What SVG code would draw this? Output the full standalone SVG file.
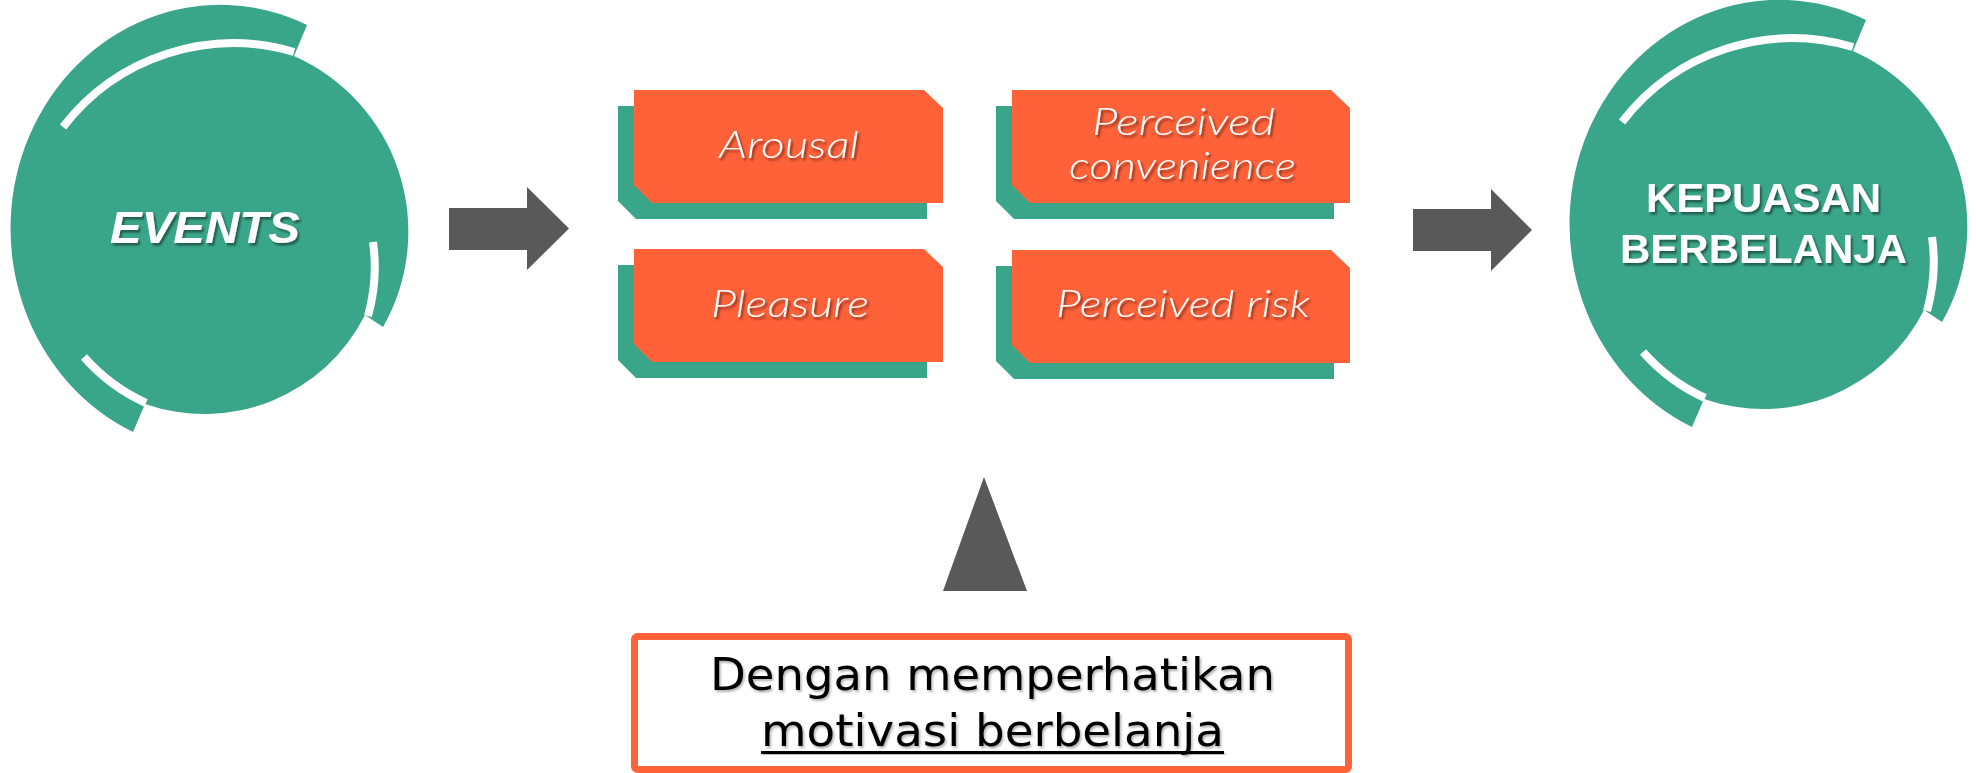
<svg xmlns="http://www.w3.org/2000/svg" xmlns:xlink="http://www.w3.org/1999/xlink" width="1976" height="773" viewBox="0 0 1976 773">
  <style>
    .teal { fill: #3AA689; }
    .orange { fill: #FF6139; }
    .gap { fill: none; stroke: #FFFFFF; stroke-width: 8; stroke-linecap: butt; }
    .arrow { fill: #595959; }
    .circle-label { font-family: "Liberation Sans", Arial, sans-serif; font-weight: bold; fill: #FFFFFF; filter: url(#shadow); }
    .box-label { font-family: Lato, "Liberation Sans", sans-serif; font-weight: 300; font-style: italic; font-size: 38px; fill: #FFFFFF; text-anchor: middle; filter: url(#shadow); }
    .note { font-family: "DejaVu Sans", "Liberation Sans", sans-serif; font-size: 45px; fill: #000000; text-anchor: middle; filter: url(#softshadow); }
  </style>
  <defs>
    <filter id="shadow" x="-10%" y="-20%" width="120%" height="150%">
      <feDropShadow dx="2" dy="2.5" stdDeviation="1.2" flood-color="#000000" flood-opacity="0.45"/>
    </filter>
    <filter id="softshadow" x="-10%" y="-20%" width="120%" height="150%">
      <feDropShadow dx="1.5" dy="2" stdDeviation="1.2" flood-color="#000000" flood-opacity="0.3"/>
    </filter>
    <!-- disc with a broken outer ring -->
    <g id="ring-disc">
      <path class="teal" d="M 307,25 A 206 220 0 1 0 133,432 L 145,404 A 180 180 0 0 0 365,315 L 383,327 A 192 192 0 0 0 294,56 Z"/>
      <path class="gap" d="M 63,127 A 215 215 0 0 1 294,52"/>
      <path class="gap" d="M 373,242 A 180 180 0 0 1 368,316"/>
      <path class="gap" d="M 84,357 A 185 185 0 0 0 146,403"/>
    </g>
    <polygon id="tag-narrow" points="0,0 290,0 309,18 309,113 18,113 0,95"/>
    <polygon id="tag-wide" points="0,0 319,0 338,18 338,113 18,113 0,95"/>
  </defs>

  <g id="connectors">
    <polygon class="arrow" points="449,208 527,208 527,187 569,228.5 527,270 527,250 449,250"/>
    <polygon class="arrow" points="1413,209 1491,209 1491,189 1532,230 1491,271 1491,251 1413,251"/>
    <polygon class="arrow" points="984,477 1027,591 943,591"/>
  </g>

  <g id="node-events">
    <use xlink:href="#ring-disc"/>
    <text class="circle-label" x="205" y="243" font-size="44" font-style="italic" text-anchor="middle" textLength="190" lengthAdjust="spacingAndGlyphs">EVENTS</text>
  </g>

  <g id="node-kepuasan">
    <use xlink:href="#ring-disc" transform="translate(1559,-5)"/>
    <text class="circle-label" x="1763.5" y="212" font-size="40" text-anchor="middle" textLength="235" lengthAdjust="spacingAndGlyphs">KEPUASAN</text>
    <text class="circle-label" x="1763.5" y="263" font-size="40" text-anchor="middle" textLength="287" lengthAdjust="spacingAndGlyphs">BERBELANJA</text>
  </g>

  <g id="node-arousal">
    <use xlink:href="#tag-narrow" class="teal" transform="translate(618,106)"/>
    <use xlink:href="#tag-narrow" class="orange" transform="translate(634,90)"/>
    <text class="box-label" x="789" y="158" textLength="140" lengthAdjust="spacingAndGlyphs">Arousal</text>
  </g>

  <g id="node-convenience">
    <use xlink:href="#tag-wide" class="teal" transform="translate(996,106)"/>
    <use xlink:href="#tag-wide" class="orange" transform="translate(1012,90)"/>
    <text class="box-label" x="1183.5" y="135" textLength="183" lengthAdjust="spacingAndGlyphs">Perceived</text>
    <text class="box-label" x="1182.5" y="179" textLength="227" lengthAdjust="spacingAndGlyphs">convenience</text>
  </g>

  <g id="node-pleasure">
    <use xlink:href="#tag-narrow" class="teal" transform="translate(618,265)"/>
    <use xlink:href="#tag-narrow" class="orange" transform="translate(634,249)"/>
    <text class="box-label" x="790" y="317" textLength="158" lengthAdjust="spacingAndGlyphs">Pleasure</text>
  </g>

  <g id="node-risk">
    <use xlink:href="#tag-wide" class="teal" transform="translate(996,266)"/>
    <use xlink:href="#tag-wide" class="orange" transform="translate(1012,250)"/>
    <text class="box-label" x="1183" y="317" textLength="254" lengthAdjust="spacingAndGlyphs">Perceived risk</text>
  </g>

  <g id="node-motivasi">
    <rect x="634.5" y="636.5" width="714" height="133" rx="3" ry="3" fill="#FFFFFF" stroke="#FF6139" stroke-width="7"/>
    <text class="note" x="992.5" y="690" textLength="565" lengthAdjust="spacingAndGlyphs">Dengan memperhatikan</text>
    <text class="note" x="992.5" y="746" textLength="463" lengthAdjust="spacingAndGlyphs">motivasi berbelanja</text>
    <rect x="761" y="751" width="463" height="3" fill="#000000" filter="url(#softshadow)"/>
  </g>
</svg>
